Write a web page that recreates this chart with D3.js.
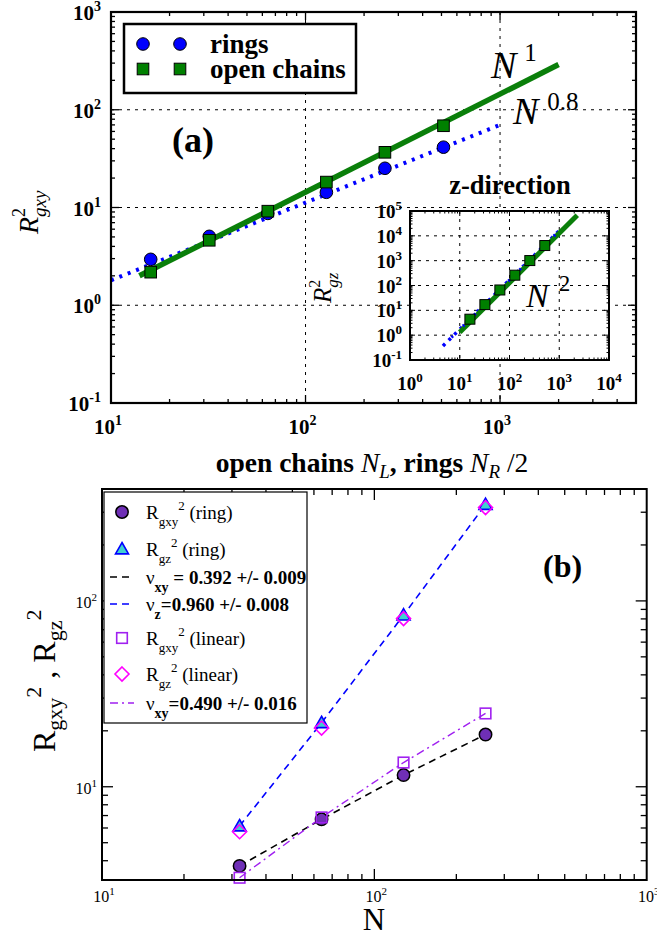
<!DOCTYPE html>
<html><head><meta charset="utf-8">
<script src="https://cdn.jsdelivr.net/npm/d3@7"></script>
<style>body{margin:0;background:#fff} svg{display:block}</style>
</head><body>
<svg id="c" width="657" height="938"></svg>
<script>
// ---------------- DATA ----------------
// Panel (a): main plot
const chainN = [16, 32, 64, 128, 256, 512];
const ringsRgxy = [2.95, 5.07, 8.7, 14.3, 25.2, 41.4];
const chainsRgxy = [2.18, 4.62, 9.17, 18.2, 36.7, 68.6];
const fitN1N = [14, 2000];
const fitN1R = [2.0, 290];
const fitN08N = [10, 1000];
const fitN08R = [1.8, 70];
const xTicksA = [10, 100, 1000];
const yTicksA = [0.1, 1, 10, 100, 1000];
// Panel (a): inset (z-direction)
const insetRgz = [4.4, 17, 66, 260, 1010, 4070];
const insetFitN = [10, 2300];
const insetFitR = [1.3, 68000];
const insetDotN = [4.6, 1040];
const insetDotR = [0.37, 17500];
const xTicksI = [1, 10, 100, 1000, 10000];
const yTicksI = [0.1, 1, 10, 100, 1000, 10000, 100000];
// Panel (b)
const bN = [32, 64, 128, 256];
const bRingRgxy = [3.75, 6.68, 11.56, 19.1];
const bRingRgz = [6.15, 22.1, 83.8, 330];
const bLinRgxy = [3.24, 6.84, 13.5, 24.8];
const bLinRgz = [5.73, 20.7, 80.3, 318];
const xTicksB = [10, 100, 1000];
const yTicksB = [10, 100];

const SERIF = "'Liberation Serif','Times New Roman',serif";
const svg = d3.select("#c");

function isMajor(v){ const l = Math.log10(v); return Math.abs(l - Math.round(l)) < 1e-9; }
function rich(sel, parts){
  parts.forEach(p => {
    const t = sel.append("tspan").text(p.t);
    if (p.size) t.attr("font-size", p.size);
    if (p.dy) t.attr("dy", p.dy);
    if (p.dx) t.attr("dx", p.dx);
    if (p.it) t.attr("font-style", "italic");
    if (p.b !== undefined) t.attr("font-weight", p.b ? "bold" : "normal");
  });
}
function powLabel(sel, v, supSize, supDy){
  const k = Math.round(Math.log10(v));
  sel.text("10");
  sel.append("tspan").attr("font-size", supSize).attr("dy", supDy).text(k);
}
function drawTicks(g, xs, ys, maj, min, w){
  const [x0, x1] = xs.range(); const [y0, y1] = ys.range();
  xs.ticks().forEach(v => {
    const x = xs(v); if (x <= x0 + 0.5 || x >= x1 - 0.5) return;
    const L = isMajor(v) ? maj : min;
    g.append("line").attr("x1", x).attr("x2", x).attr("y1", y0).attr("y2", y0 - L).attr("stroke", "#000").attr("stroke-width", w);
    g.append("line").attr("x1", x).attr("x2", x).attr("y1", y1).attr("y2", y1 + L).attr("stroke", "#000").attr("stroke-width", w);
  });
  ys.ticks().forEach(v => {
    const y = ys(v); if (y >= y0 - 0.5 || y <= y1 + 0.5) return;
    const L = isMajor(v) ? maj : min;
    g.append("line").attr("y1", y).attr("y2", y).attr("x1", x0).attr("x2", x0 + L).attr("stroke", "#000").attr("stroke-width", w);
    g.append("line").attr("y1", y).attr("y2", y).attr("x1", x1).attr("x2", x1 - L).attr("stroke", "#000").attr("stroke-width", w);
  });
}

// ================= PANEL (a) =================
const xA = d3.scaleLog().domain([10, 5000]).range([111, 636]);
const yA = d3.scaleLog().domain([0.1, 1000]).range([403, 12]);
const gA = svg.append("g");

// grid
gA.selectAll(".gxa").data([100, 1000]).join("line")
  .attr("x1", d => xA(d)).attr("x2", d => xA(d)).attr("y1", yA(1000)).attr("y2", yA(0.1))
  .attr("stroke", "#000").attr("stroke-width", 1).attr("stroke-dasharray", "3,5");
gA.selectAll(".gya").data([1, 10, 100]).join("line")
  .attr("y1", d => yA(d)).attr("y2", d => yA(d)).attr("x1", xA(10)).attr("x2", xA(5000))
  .attr("stroke", "#000").attr("stroke-width", 1).attr("stroke-dasharray", "3,5");

const lineA = d3.line().x(d => xA(d[0])).y(d => yA(d[1]));
gA.append("path").attr("d", lineA(d3.zip(fitN08N, fitN08R)))
  .attr("fill", "none").attr("stroke", "#0000ff").attr("stroke-width", 4).attr("stroke-dasharray", "3,6");
gA.append("path").attr("d", lineA(d3.zip(fitN1N, fitN1R)))
  .attr("fill", "none").attr("stroke", "#0a7f0a").attr("stroke-width", 5.5);

gA.selectAll(".ring").data(d3.zip(chainN, ringsRgxy)).join("circle")
  .attr("cx", d => xA(d[0])).attr("cy", d => yA(d[1])).attr("r", 6.3)
  .attr("fill", "#0000ff").attr("stroke", "#000").attr("stroke-width", 1);
gA.selectAll(".chain").data(d3.zip(chainN, chainsRgxy)).join("rect")
  .attr("x", d => xA(d[0]) - 5.8).attr("y", d => yA(d[1]) - 5.8).attr("width", 11.6).attr("height", 11.6)
  .attr("fill", "#008000").attr("stroke", "#000").attr("stroke-width", 1);

// frame + ticks
drawTicks(gA, xA, yA, 8, 4, 1.3);
gA.append("rect").attr("x", 111).attr("y", 12).attr("width", 525).attr("height", 391)
  .attr("fill", "none").attr("stroke", "#000").attr("stroke-width", 2.2);

// tick labels
gA.selectAll(".xla").data(xTicksA).join("text")
  .attr("x", d => xA(d) - 3).attr("y", 434).attr("text-anchor", "middle")
  .attr("font-family", SERIF).attr("font-weight", "bold").attr("font-size", 21)
  .each(function(d){ powLabel(d3.select(this), d, 14, -9); });
gA.selectAll(".yla").data(yTicksA).join("text")
  .attr("x", 101).attr("y", d => yA(d) + 8).attr("text-anchor", "end")
  .attr("font-family", SERIF).attr("font-weight", "bold").attr("font-size", 21)
  .each(function(d){ powLabel(d3.select(this), d, 14, -9); });

// legend (a)
const legA = [{label: "rings", shape: "circle"}, {label: "open chains", shape: "square"}];
gA.append("rect").attr("x", 124).attr("y", 24).attr("width", 232).attr("height", 69)
  .attr("fill", "#fff").attr("stroke", "#000").attr("stroke-width", 2.5);
legA.forEach((e, i) => {
  const y = 44 + i * 25;
  [143, 180].forEach(x => {
    if (e.shape === "circle") gA.append("circle").attr("cx", x).attr("cy", y).attr("r", 6.3)
      .attr("fill", "#0000ff").attr("stroke", "#000");
    else gA.append("rect").attr("x", x - 5.8).attr("y", y - 5.8).attr("width", 11.6).attr("height", 11.6)
      .attr("fill", "#008000").attr("stroke", "#000");
  });
  gA.append("text").attr("x", 210).attr("y", y + 9).attr("font-family", SERIF)
    .attr("font-weight", "bold").attr("font-size", 27).text(e.label);
});

// annotations
gA.append("text").attr("x", 172).attr("y", 152).attr("font-family", SERIF)
  .attr("font-weight", "bold").attr("font-size", 36).text("(a)");
const tN1 = gA.append("text").attr("x", 491).attr("y", 78).attr("font-family", SERIF).attr("font-size", 38);
rich(tN1, [{t: "N", it: true}, {t: "1", size: 25, dx: 8, dy: -17}]);
const tN08 = gA.append("text").attr("x", 513).attr("y", 124).attr("font-family", SERIF).attr("font-size", 38);
rich(tN08, [{t: "N", it: true}, {t: "0.8", size: 25, dx: 9, dy: -14}]);

// axis titles
const xtA = gA.append("text").attr("x", 372).attr("y", 472).attr("text-anchor", "middle")
  .attr("font-family", SERIF).attr("font-size", 27.5).attr("font-weight", "bold");
rich(xtA, [{t: "open chains "}, {t: "N", it: true, b: false}, {t: "L", it: true, b: false, size: 19, dy: 6},
  {t: ", rings ", dy: -6}, {t: "N", it: true, b: false}, {t: "R", it: true, b: false, size: 19, dy: 6},
  {t: " /2", b: false, dy: -6}]);
const ytA = gA.append("text").attr("transform", "translate(38,234) rotate(-90)")
  .attr("font-family", SERIF).attr("font-size", 28);
rich(ytA, [{t: "R", it: true}, {t: "2", size: 18, dy: -13}, {t: "gxy", it: true, size: 19, dx: -9, dy: 21}]);

// ---------- inset ----------
const xI = d3.scaleLog().domain([1, 10000]).range([410, 609]);
const yI = d3.scaleLog().domain([0.1, 100000]).range([360, 211]);
const gI = svg.append("g");
gI.append("rect").attr("x", 410).attr("y", 211).attr("width", 199).attr("height", 149).attr("fill", "#fff");
gI.selectAll(".gxi").data([10, 100, 1000]).join("line")
  .attr("x1", d => xI(d)).attr("x2", d => xI(d)).attr("y1", 211).attr("y2", 360)
  .attr("stroke", "#000").attr("stroke-width", 1).attr("stroke-dasharray", "3,5");
gI.selectAll(".gyi").data([1, 10, 100, 1000, 10000]).join("line")
  .attr("y1", d => yI(d)).attr("y2", d => yI(d)).attr("x1", 410).attr("x2", 609)
  .attr("stroke", "#000").attr("stroke-width", 1).attr("stroke-dasharray", "3,5");
const lineI = d3.line().x(d => xI(d[0])).y(d => yI(d[1]));
gI.append("path").attr("d", lineI(d3.zip(insetDotN, insetDotR)))
  .attr("fill", "none").attr("stroke", "#0000ff").attr("stroke-width", 3.5).attr("stroke-dasharray", "3,5");
gI.append("path").attr("d", lineI(d3.zip(insetFitN, insetFitR)))
  .attr("fill", "none").attr("stroke", "#0a7f0a").attr("stroke-width", 5);
gI.append("path").attr("d", lineI(d3.zip(insetDotN, insetDotR)))
  .attr("fill", "none").attr("stroke", "#0000ff").attr("stroke-width", 3).attr("stroke-dasharray", "2,14").attr("stroke-dashoffset", 4);
gI.selectAll(".isq").data(d3.zip(chainN, insetRgz)).join("rect")
  .attr("x", d => xI(d[0]) - 5).attr("y", d => yI(d[1]) - 5).attr("width", 10).attr("height", 10)
  .attr("fill", "#008000").attr("stroke", "#000").attr("stroke-width", 1);
drawTicks(gI, xI, yI, 5, 2.5, 1);
gI.append("rect").attr("x", 410).attr("y", 211).attr("width", 199).attr("height", 149)
  .attr("fill", "none").attr("stroke", "#000").attr("stroke-width", 2);
gI.selectAll(".xli").data(xTicksI).join("text")
  .attr("x", d => xI(d)).attr("y", 390).attr("text-anchor", "middle")
  .attr("font-family", SERIF).attr("font-weight", "bold").attr("font-size", 19)
  .each(function(d){ powLabel(d3.select(this), d, 13, -8); });
gI.selectAll(".yli").data(yTicksI).join("text")
  .attr("x", 402).attr("y", d => yI(d) + 7).attr("text-anchor", "end")
  .attr("font-family", SERIF).attr("font-weight", "bold").attr("font-size", 19)
  .each(function(d){ powLabel(d3.select(this), d, 13, -8); });
gI.append("text").attr("x", 510).attr("y", 194).attr("text-anchor", "middle")
  .attr("font-family", SERIF).attr("font-weight", "bold").attr("font-size", 26.5).text("z-direction");
const tN2 = gI.append("text").attr("x", 526).attr("y", 307).attr("font-family", SERIF).attr("font-size", 34);
rich(tN2, [{t: "N", it: true}, {t: "2", size: 23, dx: 10, dy: -16}]);
const ytI = gI.append("text").attr("transform", "translate(331,303) rotate(-90)")
  .attr("font-family", SERIF).attr("font-size", 25);
rich(ytI, [{t: "R", it: true}, {t: "2", size: 16, dy: -11}, {t: "gz", it: true, size: 17, dx: -8, dy: 18}]);

// ================= PANEL (b) =================
const xB = d3.scaleLog().domain([10, 1000]).range([102, 646.7]);
const yB = d3.scaleLog().domain([3.15, 400]).range([880, 489]);
const gB = svg.append("g");
const lineB = d3.line().x(d => xB(d[0])).y(d => yB(d[1]));
gB.append("path").attr("d", lineB(d3.zip(bN, bRingRgz))).attr("fill", "none")
  .attr("stroke", "#0000ff").attr("stroke-width", 1.6).attr("stroke-dasharray", "7,5");
gB.append("path").attr("d", lineB(d3.zip(bN, bRingRgxy))).attr("fill", "none")
  .attr("stroke", "#000").attr("stroke-width", 1.6).attr("stroke-dasharray", "7,5");
gB.append("path").attr("d", lineB(d3.zip(bN, bLinRgxy))).attr("fill", "none")
  .attr("stroke", "#a020f0").attr("stroke-width", 1.4).attr("stroke-dasharray", "8,4,2,4");

const C_CIRC = "#6f2fb6", C_TRI = "#3fd0d0", C_SQ = "#a020f0", C_DIA = "#ff00ff";
function circB(g, x, y){ g.append("circle").attr("cx", x).attr("cy", y).attr("r", 6.2).attr("fill", C_CIRC).attr("stroke", "#000").attr("stroke-width", 1.5); }
function triB(g, x, y){ const s = 6.5; g.append("path").attr("d", `M${x},${y - s}L${x + s},${y + s * 0.75}L${x - s},${y + s * 0.75}Z`).attr("fill", C_TRI).attr("stroke", "#0000ff").attr("stroke-width", 1.6); }
function sqB(g, x, y){ g.append("rect").attr("x", x - 5.3).attr("y", y - 5.3).attr("width", 10.6).attr("height", 10.6).attr("fill", "none").attr("stroke", C_SQ).attr("stroke-width", 1.6); }
function diaB(g, x, y){ const s = 7; g.append("path").attr("d", `M${x},${y - s}L${x + s},${y}L${x},${y + s}L${x - s},${y}Z`).attr("fill", "none").attr("stroke", C_DIA).attr("stroke-width", 1.6); }

d3.zip(bN, bRingRgxy).forEach(d => circB(gB, xB(d[0]), yB(d[1])));
d3.zip(bN, bRingRgz).forEach(d => triB(gB, xB(d[0]), yB(d[1])));
d3.zip(bN, bLinRgxy).forEach(d => sqB(gB, xB(d[0]), yB(d[1])));
d3.zip(bN, bLinRgz).forEach(d => diaB(gB, xB(d[0]), yB(d[1])));

drawTicks(gB, xB, yB, 11, 6, 1.3);
gB.append("rect").attr("x", 102).attr("y", 489).attr("width", 544.7).attr("height", 391)
  .attr("fill", "none").attr("stroke", "#000").attr("stroke-width", 2);

gB.selectAll(".xlb").data(xTicksB).join("text")
  .attr("x", d => xB(d) + 2).attr("y", 902).attr("text-anchor", "middle")
  .attr("font-family", SERIF).attr("font-size", 16)
  .each(function(d){ powLabel(d3.select(this), d, 11, -7); });
gB.selectAll(".ylb").data(yTicksB).join("text")
  .attr("x", 97).attr("y", d => yB(d) + 7).attr("text-anchor", "end")
  .attr("font-family", SERIF).attr("font-size", 16)
  .each(function(d){ powLabel(d3.select(this), d, 11, -7); });

gB.append("text").attr("x", 374).attr("y", 930).attr("text-anchor", "middle")
  .attr("font-family", SERIF).attr("font-size", 31).text("N");
const ytB = gB.append("text").attr("transform", "translate(55,752) rotate(-90)")
  .attr("font-family", SERIF).attr("font-size", 32);
rich(ytB, [{t: "R"}, {t: "gxy", size: 22, dy: 7}, {t: "2", size: 22, dy: -21}, {t: " , R", dy: 14},
  {t: "gz", size: 22, dy: 7}, {t: "2", size: 22, dy: -21}]);
gB.append("text").attr("x", 543).attr("y", 577).attr("font-family", SERIF)
  .attr("font-weight", "bold").attr("font-size", 32).text("(b)");

// legend (b)
gB.append("rect").attr("x", 104).attr("y", 492).attr("width", 203).attr("height", 231)
  .attr("fill", "#fff").attr("stroke", "#000").attr("stroke-width", 1.2);
const legB = [
  {kind: "circ", parts: [{t: "R"}, {t: "gxy", size: 13, dy: 7}, {t: "2", size: 13, dy: -16}, {t: " (ring)", dy: 9}]},
  {kind: "tri", parts: [{t: "R"}, {t: "gz", size: 13, dy: 7}, {t: "2", size: 13, dy: -16}, {t: " (ring)", dy: 9}]},
  {kind: "blackdash", parts: [{t: "ν"}, {t: "xy", size: 14, dy: 8, b: true}, {t: " = 0.392 +/- 0.009", dy: -8, b: true}]},
  {kind: "bluedash", parts: [{t: "ν"}, {t: "z", size: 14, dy: 8, b: true}, {t: "=0.960 +/- 0.008", dy: -8, b: true}]},
  {kind: "sq", parts: [{t: "R"}, {t: "gxy", size: 13, dy: 7}, {t: "2", size: 13, dy: -16}, {t: " (linear)", dy: 9}]},
  {kind: "dia", parts: [{t: "R"}, {t: "gz", size: 13, dy: 7}, {t: "2", size: 13, dy: -16}, {t: " (linear)", dy: 9}]},
  {kind: "dashdot", parts: [{t: "ν"}, {t: "xy", size: 14, dy: 8, b: true}, {t: "=0.490 +/- 0.016", dy: -8, b: true}]}
];
const rowY = [512, 549, 577, 604, 638, 674, 703];
legB.forEach((e, i) => {
  const y = rowY[i];
  if (e.kind === "circ") circB(gB, 122, y);
  else if (e.kind === "tri") triB(gB, 122, y);
  else if (e.kind === "sq") sqB(gB, 122, y);
  else if (e.kind === "dia") diaB(gB, 122, y);
  else {
    const st = {blackdash: ["#000", "7,5"], bluedash: ["#0000ff", "7,5"], dashdot: ["#a020f0", "8,4,2,4"]}[e.kind];
    gB.append("line").attr("x1", 110).attr("x2", 134).attr("y1", y).attr("y2", y)
      .attr("stroke", st[0]).attr("stroke-width", 1.6).attr("stroke-dasharray", st[1]);
  }
  const t = gB.append("text").attr("x", 146).attr("y", y + 7).attr("font-family", SERIF).attr("font-size", 19);
  rich(t, e.parts);
});
</script>
</body></html>
